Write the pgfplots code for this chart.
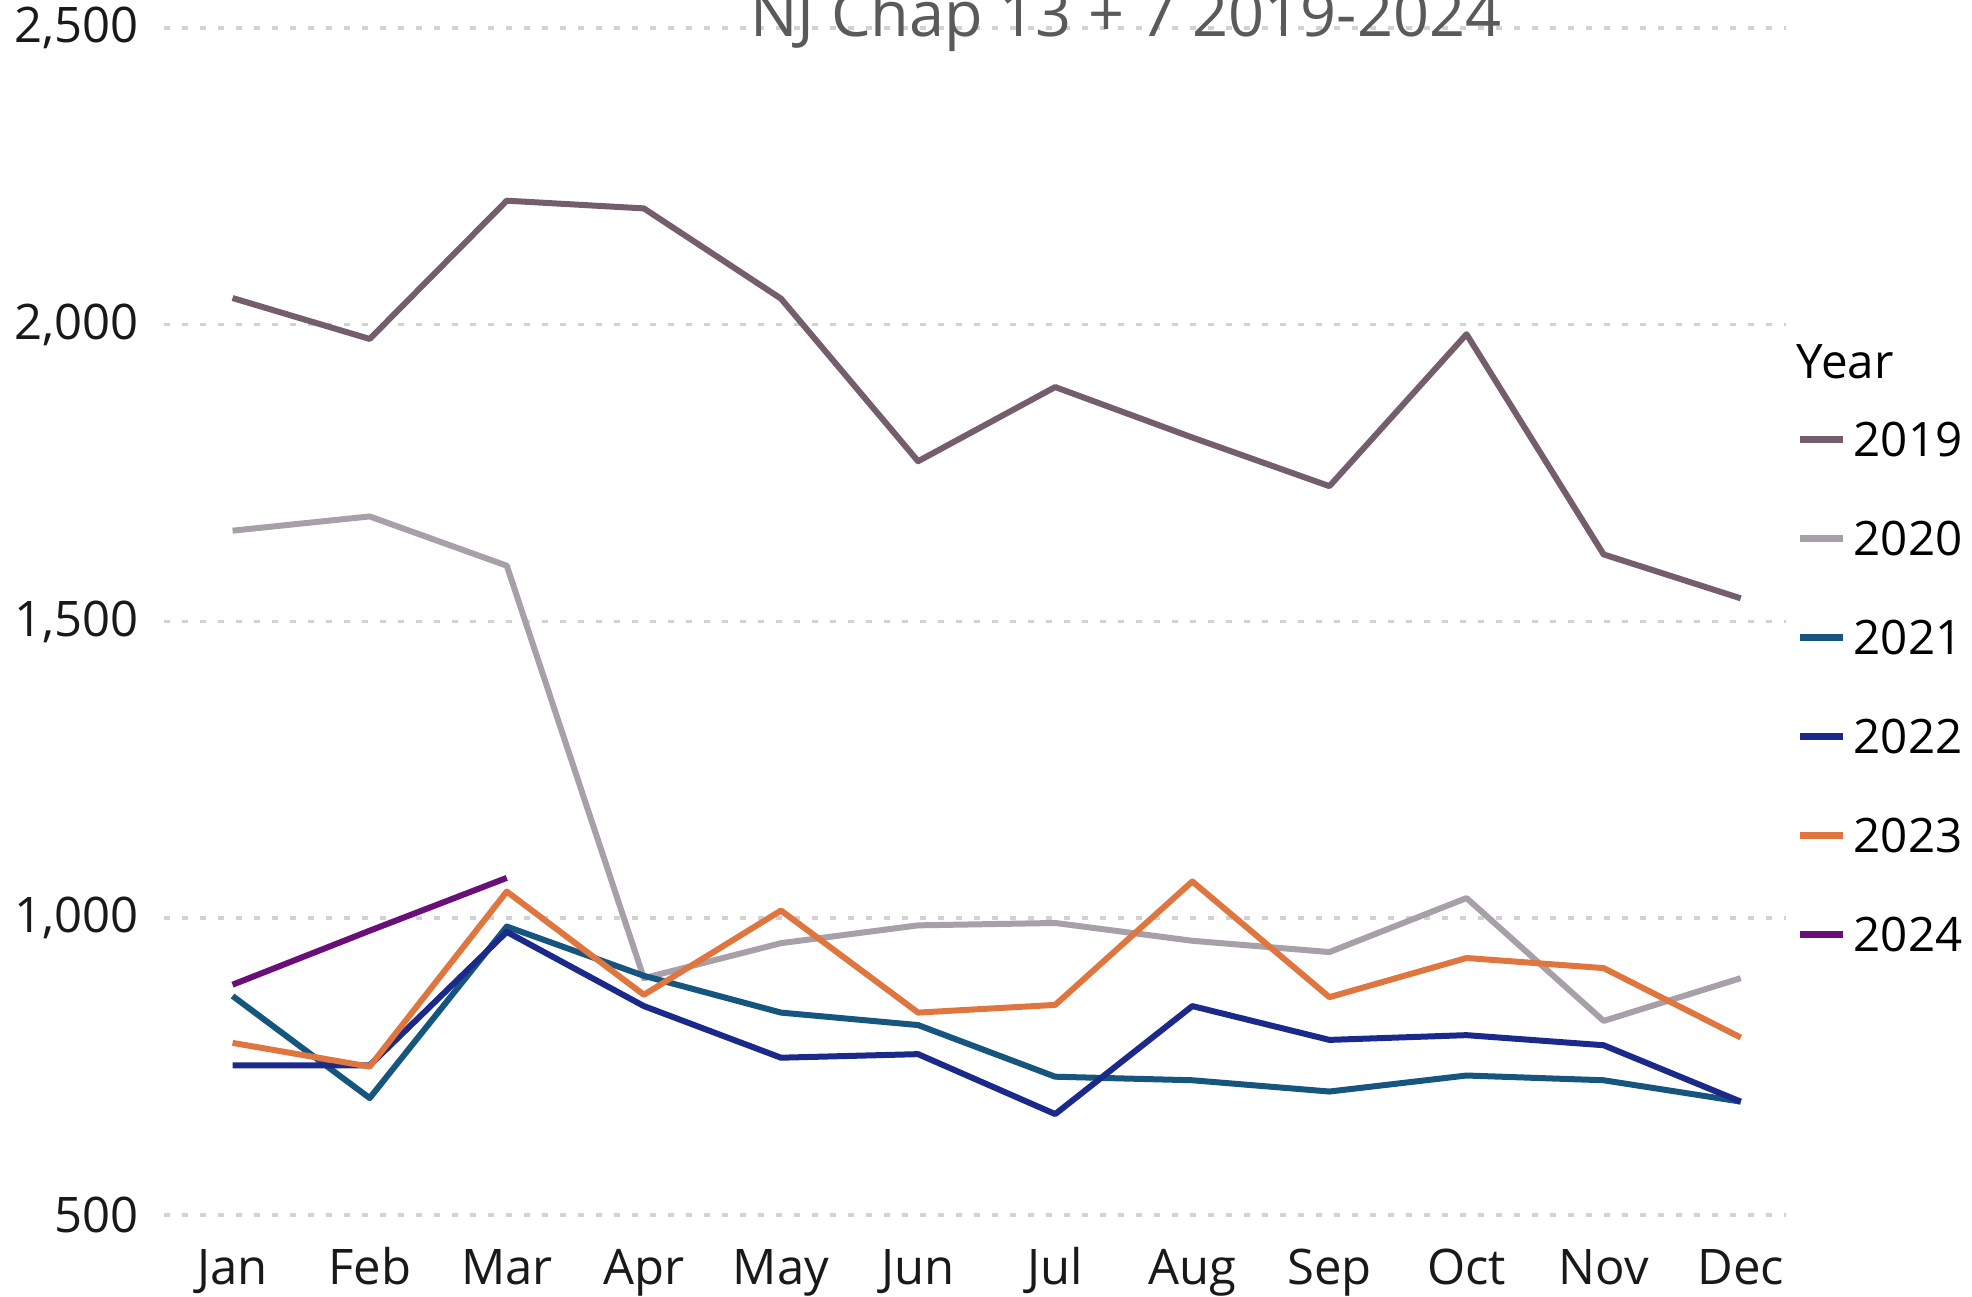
\documentclass[border=0pt]{standalone}
\usepackage{fontspec}
\setmainfont{Open Sans}
\usepackage{pgfplots}
\pgfplotsset{compat=1.18}
\definecolor{c19}{HTML}{745E6E}
\definecolor{c20}{HTML}{A8A0A8}
\definecolor{c21}{HTML}{15557E}
\definecolor{c22}{HTML}{1B2A8A}
\definecolor{c23}{HTML}{E0763F}
\definecolor{c24}{HTML}{6A0F7A}
\definecolor{tgray}{HTML}{5A5A5A}
\begin{document}
\begin{tikzpicture}
\begin{axis}[
  at={(32.8pt,16.4pt)}, anchor=south west,
  scale only axis, width=324.4pt, height=237.4pt,
  xmin=-0.5, xmax=11.33, ymin=500, ymax=2500,
  axis line style={draw=none}, clip=false,
  xtick={0,...,11},
  xticklabels={Jan,Feb,Mar,Apr,May,Jun,Jul,Aug,Sep,Oct,Nov,Dec},
  ytick={500,1000,1500,2000,2500},
  ymajorgrids, major grid style={gray!35, line width=0.7pt, dash pattern=on 1.2pt off 2.4pt},
  major tick length=0pt, tick style={draw=none},
  tick label style={font=\fontsize{9.8}{12}\selectfont, text=black!90},
  xticklabel style={yshift=-2.8pt, text height=7.6pt, text depth=2.2pt},
  yticklabel style={xshift=-1.5pt},
  /pgf/number format/assume math mode=true,
  /pgf/number format/.cd, 1000 sep={,}, /pgfplots/.cd,
  every axis plot/.append style={line width=1.2pt, line join=round},
  legend style={at={(rel axis cs:1.006,0.669)}, anchor=north west, draw=none, fill=none,
    inner sep=0pt, row sep=12.8pt, column sep=1.4pt,
    nodes={inner sep=0pt, text height=7pt, text depth=0pt},
    font=\fontsize{9.5}{12}\selectfont},
  legend cell align=left,
  legend image code/.code={\draw[#1,line width=1.4pt] (0pt,0pt) -- (8.6pt,0pt);},
]
\addplot[c19] coordinates {(0,2045) (1,1976) (2,2209) (3,2196) (4,2044) (5,1770) (6,1895) (7,1810) (8,1728) (9,1984) (10,1613) (11,1539)};
\addlegendentry{2019}
\addplot[c20] coordinates {(0,1653) (1,1677) (2,1594) (3,899) (4,958) (5,988) (6,992) (7,962) (8,943) (9,1034) (10,827) (11,899)};
\addlegendentry{2020}
\addplot[c21] coordinates {(0,869) (1,697) (2,986) (3,903) (4,841) (5,820) (6,733) (7,727) (8,708) (9,735) (10,727) (11,691)};
\addlegendentry{2021}
\addplot[c22] coordinates {(0,752) (1,752) (2,977) (3,852) (4,765) (5,771) (6,670) (7,852) (8,795) (9,803) (10,786) (11,691)};
\addlegendentry{2022}
\addplot[c23] coordinates {(0,790) (1,750) (2,1045) (3,871) (4,1013) (5,841) (6,854) (7,1062) (8,867) (9,933) (10,916) (11,799)};
\addlegendentry{2023}
\addplot[c24] coordinates {(0,888) (1,979) (2,1068)};
\addlegendentry{2024}
\node[anchor=base, text=tgray, font=\fontsize{12.6}{14}\selectfont, inner sep=0pt] at (rel axis cs:0.593,1) [yshift=-1.8pt] {NJ Chap 13 + 7 2019-2024};
\node[anchor=west, inner sep=0pt, font=\fontsize{9.5}{12}\selectfont] at (rel axis cs:1.006,0.719) {Year};
\end{axis}
\pgfresetboundingbox
\path[use as bounding box] (0,0) rectangle (394.4pt,259.4pt);
\end{tikzpicture}
\end{document}
